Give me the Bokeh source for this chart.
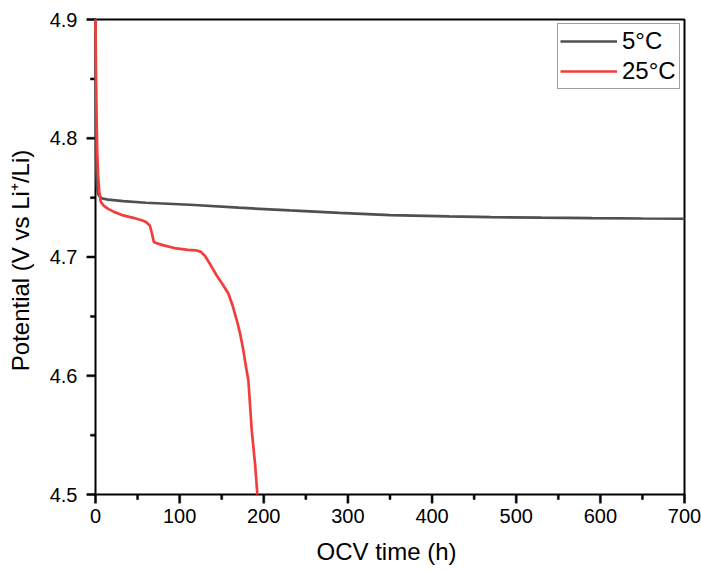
import numpy as np
from bokeh.plotting import figure
from bokeh.models import Range1d, FixedTicker, PrintfTickFormatter
from bokeh.embed import file_html
from bokeh.resources import INLINE

# 5 °C series
t_5c = [0, 0.3, 0.7, 1.2, 2, 3.5, 7, 15, 33, 60, 112, 170, 231, 290, 350,
        420, 470, 530, 590, 650, 700]
v_5c = [4.9, 4.83, 4.79, 4.77, 4.758, 4.7525, 4.7495, 4.7483, 4.747, 4.7457,
        4.744, 4.7415, 4.7392, 4.7372, 4.7352, 4.7342, 4.7336, 4.7331, 4.7327,
        4.7324, 4.7322]

# 25 °C series
t_25c = [0, 0.5, 1.2, 2, 3.1, 4.5, 6.3, 10, 15, 22, 33, 45, 55, 60, 64.6, 67,
         69.4, 80, 96, 110, 120, 125, 130, 137, 144, 151, 158, 163, 168, 172,
         175.7, 179, 181.7, 185.7, 189.6, 192.4]
v_25c = [4.9, 4.86, 4.82, 4.79, 4.769, 4.755, 4.7465, 4.743, 4.7405, 4.738,
         4.735, 4.733, 4.731, 4.7295, 4.7265, 4.720, 4.7125, 4.7100, 4.7072,
         4.706, 4.7055, 4.7045, 4.701, 4.693, 4.6844, 4.677, 4.669, 4.659,
         4.6465, 4.635, 4.6215, 4.607, 4.596, 4.554, 4.526, 4.5]

x_ticks = [0, 100, 200, 300, 400, 500, 600, 700]
x_minor = [50, 150, 250, 350, 450, 550, 650]
y_ticks = [4.5, 4.6, 4.7, 4.8, 4.9]
y_minor = [4.55, 4.65, 4.75, 4.85]

X0, X1 = 0, 700
Y0, Y1 = 4.5, 4.9
FONT = "Liberation Sans"

W, H = 701, 570
BOX_W, BOX_H = 589, 475          # size of the axes box in px
TICK_MAJ, TICK_MIN = 9, 5        # outward tick lengths in px
TICK_W = 2                       # tick thickness in px
PAD = 2                          # room beyond the top/right box edges

px_x = (X1 - X0) / BOX_W
px_y = (Y1 - Y0) / BOX_H

p = figure(width=W, height=H, output_backend="svg", toolbar_location=None,
           x_range=Range1d(X0 - TICK_MAJ * px_x, X1 + PAD * px_x),
           y_range=Range1d(Y0 - TICK_MAJ * px_y, Y1 + PAD * px_y),
           min_border_left=86, min_border_right=15, min_border_top=17,
           min_border_bottom=67)

p.xgrid.visible = False
p.ygrid.visible = False
p.outline_line_color = None

# axes box
p.line([X0, X1, X1, X0, X0], [Y0, Y0, Y1, Y1, Y0], line_color="black",
       line_width=2)


# outward ticks as small filled bars
def bars_x(vals, length):
    v = np.asarray(vals, dtype=float)
    p.quad(left=v - TICK_W / 2 * px_x, right=v + TICK_W / 2 * px_x,
           bottom=np.full(len(v), Y0 - length * px_y), top=np.full(len(v), Y0),
           fill_color="black", line_color="black", line_width=0.5)


def bars_y(vals, length):
    v = np.asarray(vals, dtype=float)
    p.quad(bottom=v - TICK_W / 2 * px_y, top=v + TICK_W / 2 * px_y,
           left=np.full(len(v), X0 - length * px_x), right=np.full(len(v), X0),
           fill_color="black", line_color="black", line_width=0.5)


bars_x(x_ticks, TICK_MAJ)
bars_x(x_minor, TICK_MIN)
bars_y(y_ticks, TICK_MAJ)
bars_y(y_minor, TICK_MIN)

p.line(t_5c, v_5c, line_color="#505050", line_width=2.7, legend_label="5°C")
p.line(t_25c, v_25c, line_color="#f23d3d", line_width=2.7, legend_label="25°C")

p.xaxis.ticker = FixedTicker(ticks=x_ticks, minor_ticks=[])
p.yaxis.ticker = FixedTicker(ticks=y_ticks, minor_ticks=[])
p.yaxis.formatter = PrintfTickFormatter(format="%.1f")

p.axis.axis_line_color = None
p.axis.major_tick_line_color = None
p.axis.minor_tick_line_color = None
p.axis.major_tick_in = 0
p.axis.minor_tick_in = 0
p.axis.major_tick_out = 0
p.axis.minor_tick_out = 0
p.axis.major_label_text_font = FONT
p.axis.major_label_text_font_size = "20px"
p.axis.major_label_text_color = "black"
p.axis.axis_label_text_font = FONT
p.axis.axis_label_text_font_size = "24px"
p.axis.axis_label_text_font_style = "normal"
p.axis.axis_label_text_color = "black"

p.xaxis.axis_label = "OCV time (h)"
p.yaxis.axis_label = "Potential (V vs Li⁺/Li)"
p.xaxis.major_label_standoff = 5
p.yaxis.major_label_standoff = 9
p.xaxis.axis_label_standoff = 12
p.yaxis.axis_label_standoff = 13

lg = p.legend[0]
lg.location = "top_right"
lg.margin = 6
lg.padding = 2
lg.spacing = 0
lg.glyph_width = 57
lg.glyph_height = 30
lg.label_standoff = 5
lg.label_width = 55
lg.label_text_font = FONT
lg.label_text_font_size = "24px"
lg.label_text_color = "black"
lg.border_line_color = "#404040"
lg.border_line_width = 1
lg.background_fill_alpha = 1

open("out.html", "w").write(file_html(p, INLINE))
